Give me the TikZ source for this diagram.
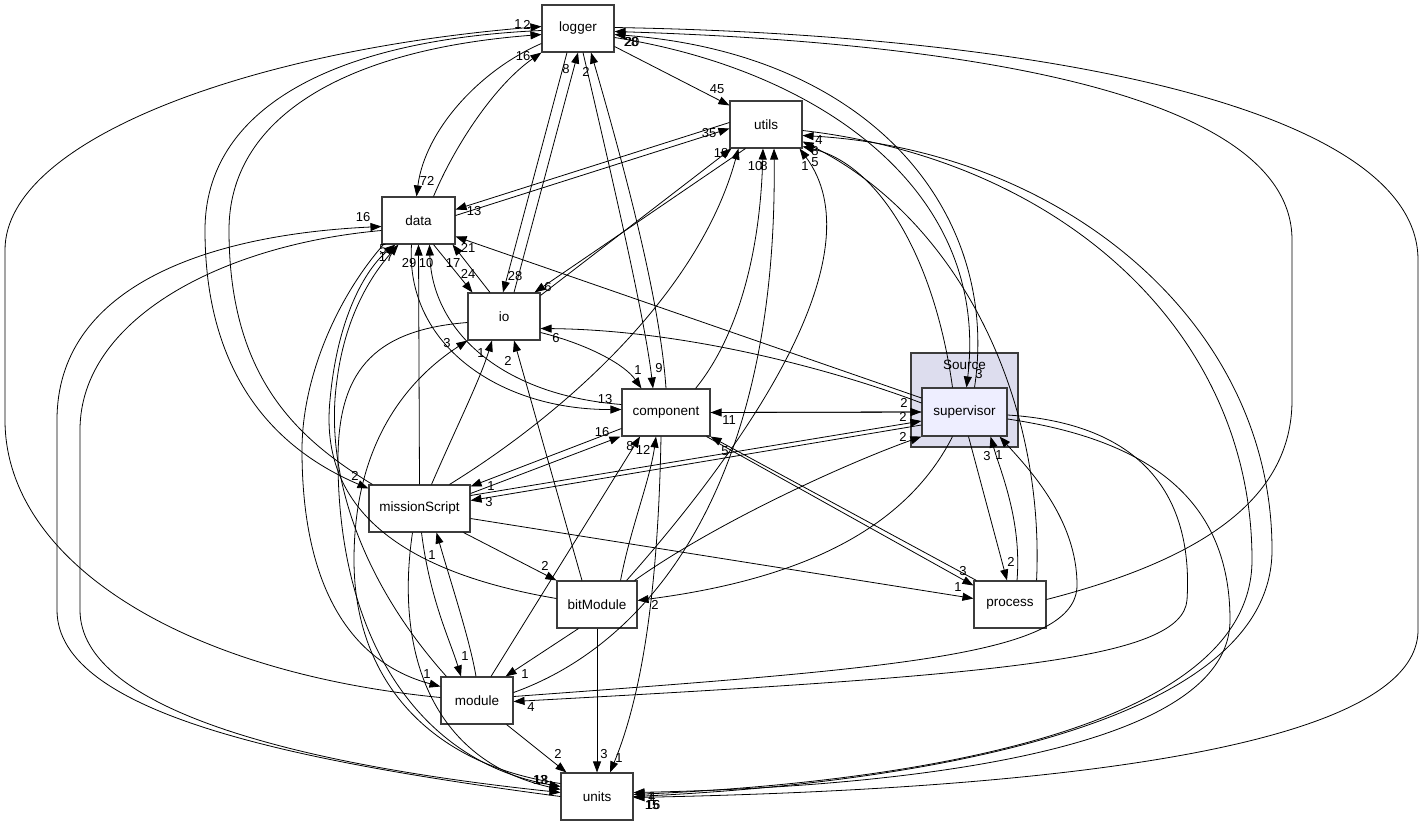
\documentclass[tikz,border=0pt]{standalone}
\usepackage{fontspec}
\setmainfont{Liberation Sans}
\usetikzlibrary{arrows.meta, calc}
\definecolor{srcfill}{RGB}{221,221,238}
\definecolor{supfill}{RGB}{238,238,255}
\definecolor{boxline}{RGB}{60,60,60}

\begin{document}
\begin{tikzpicture}[x=1pt, y=-1pt, font=\fontsize{13.5}{15}\selectfont,
  dirnode/.style={draw=boxline, line width=1.1pt, fill=white, minimum width=72pt, minimum height=47pt, inner sep=0pt},
  dep/.style={-{Triangle[length=11pt, width=8pt]}, line width=0.8pt},
  cnt/.style={inner sep=0pt, font=\fontsize{13}{13}\selectfont}]
  \useasboundingbox (0,0) rectangle (1423,827);
  \node[draw=boxline, line width=1.5pt, fill=srcfill, minimum width=107pt, minimum height=94pt, inner sep=0pt] (src) at (964.5,400) {};
  \node (srclbl) at (964.5,365) {Source};
  \node[dirnode] (logger) at (578,28.5) {logger};
  \node[dirnode] (utils) at (766,124.5) {utils};
  \node[dirnode, minimum width=73pt] (data) at (418.5,220.5) {data};
  \node[dirnode] (io) at (504,316.5) {io};
  \node[dirnode, minimum width=88pt] (component) at (666,412.5) {component};
  \node[dirnode, minimum width=85pt, minimum height=48pt, fill=supfill] (supervisor) at (964.5,412) {supervisor};
  \node[dirnode, minimum width=101pt] (missionScript) at (419.5,508.5) {missionScript};
  \node[dirnode, minimum width=80pt] (bitModule) at (597,604.5) {bitModule};
  \node[dirnode] (process) at (1010,604.5) {process};
  \node[dirnode] (module) at (477,700.5) {module};
  \node[dirnode] (units) at (597,796.5) {units};

  % logger
  \draw[dep] ($(logger.east)+(0,18)$) -- ($(utils.north west)+(0,5)$);
  \draw[dep] ($(logger.west)+(0,15)$) .. controls (480,70) and (425,130) .. ($(data.north)+(-2,0)$);
  \draw[dep] ($(data.north)+(15,0)$) .. controls (455,145) and (495,85) .. (logger.south west);
  \draw[dep] ($(logger.south)+(-11,0)$) -- ($(io.north)+(-1,0)$);
  \draw[dep] ($(io.north)+(10,0)$) -- (logger.south);
  \draw[dep] ($(logger.south)+(5,0)$) .. controls (615,190) and (645,320) .. ($(component.north)+(-13,0)$);
  \draw[dep] (component.north) .. controls (660,300) and (625,170) .. ($(logger.south)+(13,0)$);
  \draw[dep] ($(logger.west)+(0,2)$) .. controls (330,40) and (205,110) .. (205,230) .. controls (205,390) and (290,455) .. ($(missionScript.west)+(0,-20)$);
  \draw[dep] ($(missionScript.north west)+(4,0)$) .. controls (300,440) and (229,380) .. (229,230) .. controls (229,120) and (340,50) .. ($(logger.west)+(0,6)$);
  \draw[dep] ($(module.west)+(0,-3)$) .. controls (180,672) and (5,560) .. (5,420) -- (5,250) .. controls (5,140) and (250,50) .. ($(logger.west)+(0,-2)$);
  \draw[dep] ($(logger.east)+(0,-1)$) .. controls (1050,35) and (1418,110) .. (1418,260) -- (1418,630) .. controls (1418,770) and (900,792) .. ($(units.east)+(0,1)$);
  \draw[dep] ($(process.east)+(0,-5)$) .. controls (1200,560) and (1292,500) .. (1292,400) -- (1292,240) .. controls (1292,90) and (950,42) .. ($(logger.east)+(0,3)$);
  \draw[dep] ($(logger.east)+(0,9)$) .. controls (820,70) and (990,190) .. ($(supervisor.north)+(2,0)$);
  \draw[dep] ($(supervisor.north)+(10,0)$) .. controls (1000,220) and (880,55) .. ($(logger.east)+(0,6)$);

  % utils
  \draw[dep] ($(data.east)+(0,-5)$) -- ($(utils.west)+(0,4)$);
  \draw[dep] ($(utils.west)+(0,-2)$) -- ($(data.east)+(0,-11)$);
  \draw[dep] ($(utils.south west)+(16,0)$) -- ($(io.north east)+(-6,0)$);
  \draw[dep] ($(io.north east)+(0,3)$) -- ($(utils.south west)+(2,0)$);
  \draw[dep] ($(component.north east)+(-15,0)$) .. controls (735,340) and (760,260) .. ($(utils.south)+(-3,0)$);
  \draw[dep] ($(module.east)+(0,-8)$) .. controls (660,640) and (778,470) .. ($(utils.south)+(8,0)$);
  \draw[dep] ($(missionScript.north)+(30,0)$) .. controls (570,410) and (700,290) .. ($(utils.south west)+(9,0)$);
  \draw[dep] ($(bitModule.north east)+(-11,0)$) .. controls (760,430) and (875,250) .. ($(utils.south east)+(-3,0)$);
  \draw[dep] ($(supervisor.north)+(-12,0)$) .. controls (935,260) and (880,165) .. ($(utils.east)+(0,22)$);
  \draw[dep] ($(process.north east)+(-10,0)$) .. controls (1045,400) and (960,220) .. ($(utils.east)+(0,17)$);
  \draw[dep] ($(utils.east)+(0,6)$) .. controls (1060,160) and (1252,330) .. (1252,560) .. controls (1252,745) and (850,785) .. ($(units.east)+(0,-2)$);
  \draw[dep] (units.east) .. controls (900,785) and (1272,730) .. (1272,550) .. controls (1272,320) and (1060,150) .. ($(utils.east)+(0,11)$);

  % supervisor
  \draw[dep] ($(supervisor.east)+(0,3)$) .. controls (1165,425) and (1192,520) .. (1187,600) .. controls (1182,660) and (1000,675) .. ($(module.east)+(0,1)$);
  \draw[dep] ($(module.east)+(0,-4)$) .. controls (900,668) and (1077,655) .. (1077,585) .. controls (1077,520) and (1030,470) .. ($(supervisor.south east)+(-8,0)$);
  \draw[dep] ($(supervisor.east)+(0,7)$) .. controls (1150,440) and (1230,500) .. (1230,620) .. controls (1230,762) and (850,788) .. ($(units.east)+(0,-4)$);
  \draw[dep] ($(supervisor.west)+(0,-14)$) -- ($(data.east)+(0,16)$);
  \draw[dep] ($(supervisor.west)+(0,-9)$) .. controls (840,372) and (690,330) .. ($(io.east)+(0,12)$);
  \draw[dep] (component.east) -- (supervisor.west);
  \draw[dep] (supervisor.west) -- (component.east);
  \draw[dep] ($(missionScript.east)+(0,-13)$) -- ($(supervisor.west)+(0,9)$);
  \draw[dep] ($(supervisor.west)+(0,13)$) -- ($(missionScript.east)+(0,-8)$);
  \draw[dep] ($(bitModule.north east)+(-3,0)$) .. controls (720,520) and (850,462) .. (supervisor.south west);
  \draw[dep] ($(supervisor.south)+(-12,0)$) .. controls (900,540) and (780,582) .. ($(bitModule.east)+(0,-4)$);
  \draw[dep] ($(supervisor.south)+(4,0)$) -- ($(process.north)+(-3,0)$);
  \draw[dep] ($(process.north)+(7,0)$) .. controls (1022,520) and (1000,470) .. ($(supervisor.south east)+(-17,0)$);

  % component
  \draw[dep] ($(io.east)+(0,16)$) .. controls (590,345) and (625,365) .. ($(component.north west)+(20,0)$);
  \draw[dep] ($(data.south)+(-7,0)$) .. controls (405,345) and (500,410) .. ($(component.west)+(0,-3)$);
  \draw[dep] ($(component.west)+(0,-8)$) .. controls (500,395) and (432,330) .. ($(data.south)+(11,0)$);
  \draw[dep] ($(component.west)+(0,16)$) -- ($(missionScript.east)+(0,-22)$);
  \draw[dep] ($(missionScript.east)+(0,-15)$) -- ($(component.south west)+(-1,0)$);
  \draw[dep] ($(component.south east)+(-4,0)$) -- ($(process.west)+(0,-19)$);
  \draw[dep] ($(process.north west)+(3,0)$) -- (component.south east);
  \draw[dep] ($(missionScript.east)+(0,10)$) -- ($(process.west)+(0,-6)$);
  \draw[dep] ($(component.south)+(-5,0)$) .. controls (658,600) and (640,700) .. ($(units.north)+(13,0)$);

  % units, data, io
  \draw[dep] (bitModule.south) -- (units.north);
  \draw[dep] ($(module.south east)+(-7,0)$) -- ($(units.north west)+(6,0)$);
  \draw[dep] ($(missionScript.south)+(-7,0)$) .. controls (395,650) and (430,760) .. ($(units.west)+(0,-7)$);
  \draw[dep] ($(data.west)+(0,10)$) .. controls (220,245) and (80,320) .. (80,430) -- (80,610) .. controls (80,710) and (300,765) .. ($(units.west)+(0,-4)$);
  \draw[dep] (units.west) .. controls (300,762) and (57,715) .. (57,610) -- (57,420) .. controls (57,290) and (200,235) .. ($(data.west)+(0,6)$);
  \draw[dep] ($(io.west)+(0,6)$) .. controls (370,330) and (338,375) .. (338,460) .. controls (338,640) and (420,762) .. ($(units.west)+(0,-10)$);
  \draw[dep] ($(units.west)+(0,-13)$) .. controls (430,765) and (354,680) .. (354,560) .. controls (354,440) and (410,378) .. (io.south west);
  \draw[dep] ($(bitModule.west)+(0,-6)$) .. controls (360,565) and (322,480) .. (330,400) .. controls (338,310) and (370,265) .. ($(data.south west)+(14,0)$);
  \draw[dep] ($(module.north west)+(6,0)$) .. controls (360,580) and (324,470) .. (337,380) .. controls (346,310) and (376,270) .. ($(data.south west)+(17,0)$);
  \draw[dep] ($(data.south west)+(2,0)$) .. controls (335,300) and (302,380) .. (302,450) .. controls (302,600) and (360,665) .. ($(module.west)+(0,-14)$);
  \draw[dep] (missionScript.north) -- (data.south);
  \draw[dep] ($(data.south)+(15,0)$) -- ($(io.north west)+(5,0)$);
  \draw[dep] ($(io.north)+(-14,0)$) -- ($(data.south east)+(-3,0)$);
  \draw[dep] ($(missionScript.north)+(12,0)$) .. controls (455,430) and (480,380) .. ($(io.south)+(-12,0)$);
  \draw[dep] ($(bitModule.north)+(-15,0)$) -- ($(io.south)+(10,0)$);

  % module, bitModule
  \draw[dep] ($(missionScript.south)+(2,0)$) .. controls (430,600) and (450,640) .. ($(module.north)+(-16,0)$);
  \draw[dep] ($(module.north)+(-1,0)$) .. controls (470,640) and (450,580) .. ($(missionScript.south)+(17,0)$);
  \draw[dep] ($(missionScript.south east)+(-7,0)$) -- (bitModule.north west);
  \draw[dep] ($(bitModule.south west)+(22,0)$) -- ($(module.north east)+(-8,0)$);
  \draw[dep] ($(module.north)+(14,0)$) -- ($(component.south)+(-26,0)$);
  \draw[dep] ($(bitModule.north east)+(-17,0)$) .. controls (630,530) and (650,480) .. ($(component.south)+(-10,0)$);

  \foreach \x/\y/\t [count=\i] in {518/24/1, 527/25/2, 523/56/16, 566/69/8, 586/72/2, 631/42/28, 632/42/20,
    717/89/45, 427/181/72, 709/133/35, 474/211/13, 363/217/16, 721/153/18, 755/166/10, 764/166/8, 805/166/1,
    819/140/4, 815/151/8, 815/162/5, 979/374/3, 383/249/5, 386/257/17, 409/263/29, 426/263/10, 453/263/17,
    468/248/21, 468/274/24, 515/276/28, 548/287/6, 556/338/6, 447/343/3, 481/353/1, 508/361/2, 638/370/1,
    659/368/9, 605/399/13, 602/432/16, 630/446/8, 643/450/12, 729/420/11, 725/451/5, 904/403/2, 903/417/2,
    903/437/2, 987/456/3, 999/455/1, 355/476/2, 491/486/1, 489/502/3, 432/555/1, 545/566/2, 655/605/2,
    963/571/3, 958/587/1, 1011/562/2, 465/656/1, 427/674/1, 525/674/1, 531/707/4, 558/754/2, 604/754/3,
    619/758/1, 540/780/13, 541/780/18, 652/797/4, 651/797/1, 652/805/15, 653/805/16}
    \node[cnt] (n\i) at (\x,\y) {\t};
\end{tikzpicture}
\end{document}
